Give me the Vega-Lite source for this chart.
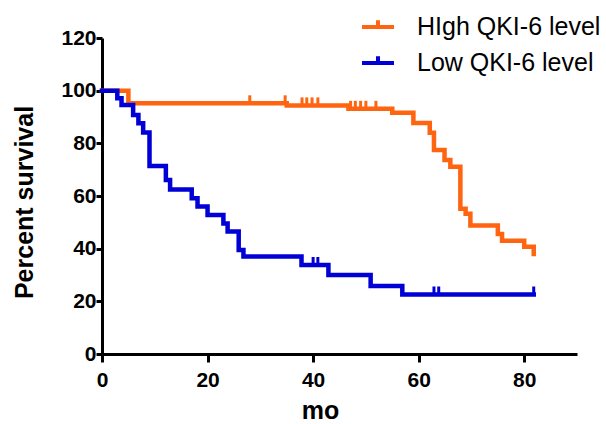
{
  "$schema": "https://vega.github.io/schema/vega-lite/v6.json",
  "width": 475,
  "height": 316,
  "autosize": "none",
  "padding": {"left": 102, "top": 38, "right": 29, "bottom": 70},
  "background": "white",
  "config": {
    "view": {"stroke": null},
    "font": "Liberation Sans"
  },
  "data": {
    "values": [
      {"group": "HIgh QKI-6 level", "mo": 0, "pct": 100, "censored": false},
      {"group": "HIgh QKI-6 level", "mo": 5, "pct": 95.2, "censored": false},
      {"group": "HIgh QKI-6 level", "mo": 28, "pct": 95.2, "censored": true},
      {"group": "HIgh QKI-6 level", "mo": 34.7, "pct": 95.2, "censored": true},
      {"group": "HIgh QKI-6 level", "mo": 35, "pct": 94.4, "censored": false},
      {"group": "HIgh QKI-6 level", "mo": 37.9, "pct": 94.4, "censored": true},
      {"group": "HIgh QKI-6 level", "mo": 38.8, "pct": 94.4, "censored": true},
      {"group": "HIgh QKI-6 level", "mo": 39.8, "pct": 94.4, "censored": true},
      {"group": "HIgh QKI-6 level", "mo": 40.9, "pct": 94.4, "censored": true},
      {"group": "HIgh QKI-6 level", "mo": 46.7, "pct": 93.1, "censored": false},
      {"group": "HIgh QKI-6 level", "mo": 47.1, "pct": 93.1, "censored": true},
      {"group": "HIgh QKI-6 level", "mo": 48, "pct": 93.1, "censored": true},
      {"group": "HIgh QKI-6 level", "mo": 49, "pct": 93.1, "censored": true},
      {"group": "HIgh QKI-6 level", "mo": 50, "pct": 93.1, "censored": true},
      {"group": "HIgh QKI-6 level", "mo": 51.9, "pct": 93.1, "censored": true},
      {"group": "HIgh QKI-6 level", "mo": 55, "pct": 91.6, "censored": false},
      {"group": "HIgh QKI-6 level", "mo": 59, "pct": 87.7, "censored": false},
      {"group": "HIgh QKI-6 level", "mo": 62.1, "pct": 84.0, "censored": false},
      {"group": "HIgh QKI-6 level", "mo": 62.9, "pct": 77.5, "censored": false},
      {"group": "HIgh QKI-6 level", "mo": 64.9, "pct": 73.7, "censored": false},
      {"group": "HIgh QKI-6 level", "mo": 66, "pct": 71.1, "censored": false},
      {"group": "HIgh QKI-6 level", "mo": 67.9, "pct": 55.2, "censored": false},
      {"group": "HIgh QKI-6 level", "mo": 68.9, "pct": 53.3, "censored": false},
      {"group": "HIgh QKI-6 level", "mo": 69.8, "pct": 48.8, "censored": false},
      {"group": "HIgh QKI-6 level", "mo": 75, "pct": 45.6, "censored": false},
      {"group": "HIgh QKI-6 level", "mo": 75.8, "pct": 43.0, "censored": false},
      {"group": "HIgh QKI-6 level", "mo": 80, "pct": 40.7, "censored": false},
      {"group": "HIgh QKI-6 level", "mo": 81.8, "pct": 38.0, "censored": false},
      {"group": "Low QKI-6 level", "mo": 0, "pct": 100, "censored": false},
      {"group": "Low QKI-6 level", "mo": 2.9, "pct": 97.1, "censored": false},
      {"group": "Low QKI-6 level", "mo": 3.7, "pct": 94.6, "censored": false},
      {"group": "Low QKI-6 level", "mo": 5.9, "pct": 90.8, "censored": false},
      {"group": "Low QKI-6 level", "mo": 6.9, "pct": 87.6, "censored": false},
      {"group": "Low QKI-6 level", "mo": 7.8, "pct": 84.1, "censored": false},
      {"group": "Low QKI-6 level", "mo": 9.0, "pct": 71.4, "censored": false},
      {"group": "Low QKI-6 level", "mo": 12.1, "pct": 66.1, "censored": false},
      {"group": "Low QKI-6 level", "mo": 12.9, "pct": 62.5, "censored": false},
      {"group": "Low QKI-6 level", "mo": 17.0, "pct": 59.1, "censored": false},
      {"group": "Low QKI-6 level", "mo": 18.1, "pct": 56.0, "censored": false},
      {"group": "Low QKI-6 level", "mo": 20.0, "pct": 52.8, "censored": false},
      {"group": "Low QKI-6 level", "mo": 23.0, "pct": 49.6, "censored": false},
      {"group": "Low QKI-6 level", "mo": 23.8, "pct": 46.5, "censored": false},
      {"group": "Low QKI-6 level", "mo": 25.9, "pct": 39.5, "censored": false},
      {"group": "Low QKI-6 level", "mo": 26.8, "pct": 37.0, "censored": false},
      {"group": "Low QKI-6 level", "mo": 37.8, "pct": 33.8, "censored": false},
      {"group": "Low QKI-6 level", "mo": 40.0, "pct": 33.8, "censored": true},
      {"group": "Low QKI-6 level", "mo": 40.9, "pct": 33.8, "censored": true},
      {"group": "Low QKI-6 level", "mo": 42.9, "pct": 30.0, "censored": false},
      {"group": "Low QKI-6 level", "mo": 50.9, "pct": 25.8, "censored": false},
      {"group": "Low QKI-6 level", "mo": 56.9, "pct": 22.6, "censored": false},
      {"group": "Low QKI-6 level", "mo": 62.9, "pct": 22.6, "censored": true},
      {"group": "Low QKI-6 level", "mo": 63.8, "pct": 22.6, "censored": true},
      {"group": "Low QKI-6 level", "mo": 81.8, "pct": 22.6, "censored": true}
    ]
  },
  "encoding": {
    "x": {
      "field": "mo", "type": "quantitative",
      "scale": {"domain": [0, 90], "nice": false, "zero": false},
      "axis": {
        "title": "mo", "values": [0, 20, 40, 60, 80],
        "grid": false, "domainColor": "black", "domainWidth": 3,
        "tickColor": "black", "tickWidth": 3, "tickSize": 8,
        "labelFont": "Liberation Sans", "labelFontWeight": "bold", "labelFontSize": 21, "labelColor": "black",
        "labelPadding": 7, "labelFlush": false,
        "titleFont": "Liberation Sans", "titleFontWeight": "bold", "titleFontSize": 25, "titleColor": "black",
        "titleX": 218, "titleY": 64, "titleAnchor": null, "titleAlign": "center", "titleBaseline": "alphabetic"
      }
    },
    "y": {
      "field": "pct", "type": "quantitative",
      "scale": {"domain": [0, 120], "nice": false},
      "axis": {
        "title": "Percent survival", "values": [0, 20, 40, 60, 80, 100, 120],
        "grid": false, "domainColor": "black", "domainWidth": 3,
        "tickColor": "black", "tickWidth": 3, "tickSize": 6,
        "labelFont": "Liberation Sans", "labelFontWeight": "bold", "labelFontSize": 21, "labelColor": "black",
        "labelPadding": 0,
        "titleFont": "Liberation Sans", "titleFontWeight": "bold", "titleFontSize": 25, "titleColor": "black",
        "titleX": -78, "titleY": 164, "titleAngle": -90, "titleAlign": "center", "titleBaseline": "middle"
      }
    },
    "color": {
      "field": "group", "type": "nominal",
      "scale": {"domain": ["HIgh QKI-6 level", "Low QKI-6 level"], "range": ["#FF6410", "#0000D6"]},
      "legend": {
        "title": null, "orient": "none", "legendX": 258, "legendY": -29,
        "symbolType": "M-1,0H1M0,0V-0.42", "symbolSize": 1024, "symbolStrokeWidth": 4,
        "symbolFillColor": "transparent",
        "labelFont": "Liberation Sans", "labelFontSize": 25, "labelColor": "black",
        "labelOffset": 21, "rowPadding": 5, "labelLimit": 300
      }
    }
  },
  "layer": [
    {
      "mark": {"type": "line", "interpolate": "step-after", "strokeWidth": 4.5, "strokeCap": "square"}
    },
    {
      "transform": [{"filter": "datum.censored"}],
      "mark": {"type": "tick", "orient": "vertical", "size": 8, "thickness": 3, "yOffset": -4, "opacity": 1},
      "encoding": {"color": {"field": "group", "type": "nominal", "legend": null}}
    }
  ]
}
